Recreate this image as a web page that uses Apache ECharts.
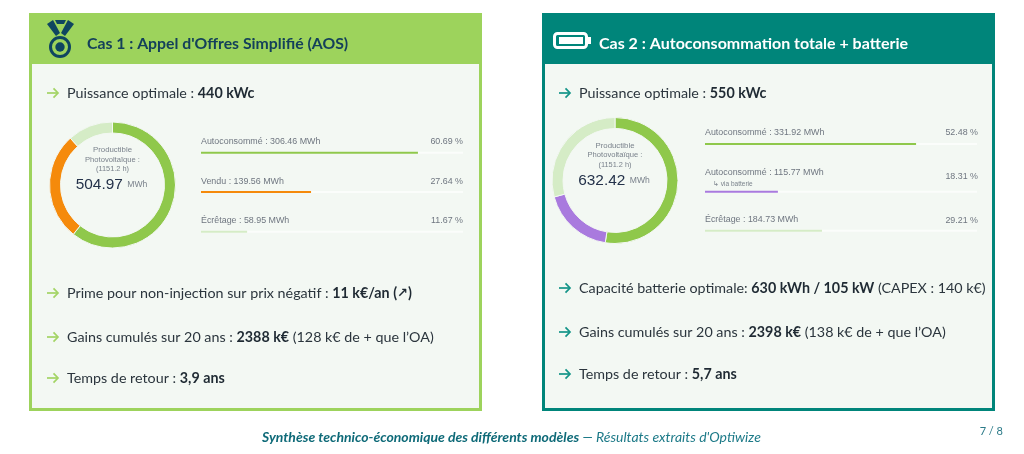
<!DOCTYPE html>
<html><head><meta charset="utf-8">
<style>html,body{margin:0;padding:0;background:#fff}#c{width:1024px;height:454px}</style>
<script src="https://cdn.jsdelivr.net/npm/echarts@6/dist/echarts.min.js"></script>
</head><body><div id="c"></div>
<script>
const case1Names = ['Autoconsommé', 'Vendu', 'Écrêtage'];
const case1Energy = [306.46, 139.56, 58.95];
const case1Percent = ['60.69 %', '27.64 %', '11.67 %'];
const case1BarFill = [82.8, 42, 17.6];
const case1Total = '504.97';
const case2Names = ['Autoconsommé', 'Autoconsommé', 'Écrêtage'];
const case2Energy = [331.92, 115.77, 184.73];
const case2Percent = ['52.48 %', '18.31 %', '29.21 %'];
const case2BarFill = [77.6, 26.8, 43];
const case2Total = '632.42';
const case1Colors = ['#8fc84b', '#f58a0b', '#d5ecc6'];
const case2Colors = ['#8fc84b', '#a97ade', '#d5ecc6'];

const FONT = 'Lato, "Open Sans", sans-serif';
const UI = '"Liberation Sans", Arial, sans-serif';
const DARK = '#2b353d';
const bg = '#f3f8f3';
const BODY = 14.3;

const graphic = [];
const grid = [], xAxis = [], yAxis = [], series = [];

function rect(x, y, w, h, fill, stroke, lw) {
  graphic.push({type:'rect', z:0, silent:true, shape:{x, y, width:w, height:h},
    style:{fill, stroke: stroke || null, lineWidth: lw || 0}});
}
function text(x, y, str, size, fill, opt) {
  opt = opt || {};
  graphic.push({type:'text', z:10, silent:true, x, y, style:Object.assign({
    text:str, fontSize:size, fill, fontFamily:opt.family || FONT,
    fontWeight:opt.weight || 'normal', fontStyle:opt.style || 'normal',
    textAlign:opt.align || 'left', textVerticalAlign:'middle', verticalAlign:'middle'
  }, opt.rich ? {rich:opt.rich} : {})});
}
const bodyRich = {
  n:{fontSize:BODY, fill:DARK, fontFamily:FONT},
  b:{fontSize:BODY, fill:'#1f2a33', fontFamily:FONT, fontWeight:'bold'},
  u:{fontSize:13, fill:'#1f2a33', fontFamily:'"DejaVu Sans"', fontWeight:'bold'}
};
function arrow(x, y, color) {
  graphic.push({type:'polyline', z:10, silent:true, shape:{points:[[x, y], [x + 11, y]]}, style:{fill:'none', stroke:color, lineWidth:1.7}});
  graphic.push({type:'polyline', z:10, silent:true, shape:{points:[[x + 6.5, y - 4.6], [x + 11, y], [x + 6.5, y + 4.6]]}, style:{fill:'none', stroke:color, lineWidth:1.7}});
}
function bullet(xArrow, xText, y, str, color) {
  arrow(xArrow, y, color);
  text(xText, y + 0.5, str, BODY, DARK, {rich:bodyRich});
}
function card(x, head, names, energy, percent, fill, colors, total, cx, cy, barY, labelY, pctY, trackX, trackW, pctRight, seriesName) {
  rect(x + 1.5, 14.5, 450, 395, bg, head, 3);
  rect(x, 13, 453, 51, head);
  series.push({
    type:'pie', name:seriesName, center:[cx, cy], radius:[52, 63], startAngle:90, clockwise:true,
    silent:true, label:{show:false}, labelLine:{show:false}, animation:false,
    itemStyle:{borderColor:bg, borderWidth:1},
    data:energy.map((v, i) => ({name:names[i], value:v, itemStyle:{color:colors[i]}}))
  });
  text(cx, cy - 35, 'Productible', 7.8, '#7a828c', {family:UI, align:'center'});
  text(cx, cy - 25.5, 'Photovoltaïque :', 7.6, '#7a828c', {family:UI, align:'center'});
  text(cx, cy - 16, '(1151.2 h)', 7.4, '#7a828c', {family:UI, align:'center'});
  text(cx - 1, cy, '{v|' + total + '} {u|MWh}', 16, '#2a3850', {family:UI, align:'center', rich:{
    v:{fontSize:15.4, fill:'#24324a', fontFamily:UI}, u:{fontSize:8.6, fill:'#7a828c', fontFamily:UI}
  }});
  energy.forEach((v, i) => {
    const g = grid.length;
    grid.push({left:trackX, width:trackW, top:barY[i] - 1, height:2, containLabel:false});
    xAxis.push({type:'value', gridIndex:g, min:0, max:100, show:false});
    yAxis.push({type:'category', gridIndex:g, data:[names[i]], show:false});
    series.push({type:'bar', xAxisIndex:g, yAxisIndex:g, data:[fill[i]], barWidth:2, silent:true, animation:false,
      showBackground:true, backgroundStyle:{color:'#fbfdfb'}, itemStyle:{color:colors[i]}});
    text(trackX, labelY[i], names[i] + ' : ' + v.toFixed(2) + ' MWh', 8.9, '#6f7680', {family:UI});
    text(pctRight, pctY[i], percent[i], 8.9, '#6f7680', {family:UI, align:'right'});
  });
}

card(29, '#9dd35c', case1Names, case1Energy, case1Percent, case1BarFill, case1Colors, case1Total,
  112.5, 185, [152.7, 192, 231.7], [142, 182, 221], [142, 182, 221], 201, 262, 463, 'Cas 1');
card(542, '#00857a', case2Names, case2Energy, case2Percent, case2BarFill, case2Colors, case2Total,
  615, 180.5, [144, 191.7, 230.7], [133, 173, 220], [133, 177, 221], 705, 272, 978, 'Cas 2');

text(713, 184, '↳ via batterie', 6.5, '#7a828c', {family:UI});

// titles
text(87, 44, "Cas 1 : Appel d'Offres Simplifié (AOS)", 15.8, '#14405a', {weight:'bold'});
text(599, 44, 'Cas 2 : Autoconsommation totale + batterie', 16, '#ffffff', {weight:'bold'});

// medal icon
const navy = '#0f4560';
graphic.push({type:'polygon', z:10, silent:true, shape:{points:[[47,24],[53,20],[60,33],[56,36]]}, style:{fill:navy}});
graphic.push({type:'polygon', z:10, silent:true, shape:{points:[[74,24],[68,20],[61,33],[65,36]]}, style:{fill:navy}});
graphic.push({type:'polygon', z:10, silent:true, shape:{points:[[55,20],[66,20],[64,24],[57,24]]}, style:{fill:navy}});
graphic.push({type:'circle', z:10, silent:true, shape:{cx:60, cy:47, r:9.5}, style:{fill:'none', stroke:navy, lineWidth:3}});
graphic.push({type:'circle', z:10, silent:true, shape:{cx:60, cy:47, r:4.7}, style:{fill:navy}});

// battery icon
graphic.push({type:'rect', z:10, silent:true, shape:{x:554.5, y:33.5, width:32, height:14, r:3}, style:{fill:'none', stroke:'#fff', lineWidth:3}});
graphic.push({type:'rect', z:10, silent:true, shape:{x:588, y:37, width:3, height:7}, style:{fill:'#fff'}});
graphic.push({type:'rect', z:10, silent:true, shape:{x:559, y:37, width:24, height:7}, style:{fill:'#fff'}});

const g1 = '#a3d465', g2 = '#149488';
bullet(47, 67, 93, '{n|Puissance optimale : }{b|440 kWc}', g1);
bullet(47, 67, 293, '{n|Prime pour non-injection sur prix négatif : }{b|11 k€/an (}{u|↗}{b|)}', g1);
bullet(47, 67, 337, '{n|Gains cumulés sur 20 ans : }{b|2388 k€}{n| (128 k€ de + que l’OA)}', g1);
bullet(47, 67, 378, '{n|Temps de retour : }{b|3,9 ans}', g1);
bullet(559, 579, 93, '{n|Puissance optimale : }{b|550 kWc}', g2);
bullet(559, 579, 288, '{n|Capacité batterie optimale: }{b|630 kWh / 105 kW}{n| (CAPEX : 140 k€)}', g2);
bullet(559, 579, 332, '{n|Gains cumulés sur 20 ans : }{b|2398 k€}{n| (138 k€ de + que l’OA)}', g2);
bullet(559, 579, 374, '{n|Temps de retour : }{b|5,7 ans}', g2);

text(262, 437, '{a|Synthèse technico-économique des différents modèles}{b| — Résultats extraits d\'Optiwize}', 14, '#0e6a78', {rich:{
  a:{fontSize:14, fontWeight:'bold', fontStyle:'italic', fill:'#0e6a78', fontFamily:FONT},
  b:{fontSize:14, fontStyle:'italic', fill:'#1d7a88', fontFamily:FONT}
}});
text(1003, 431, '7 / 8', 11, '#2b7a88', {align:'right'});

const chart = echarts.init(document.getElementById('c'), null, {renderer:'canvas', width:1024, height:454});
chart.setOption({animation:false, backgroundColor:'#ffffff', grid, xAxis, yAxis, series, graphic:{elements:graphic}});
</script></body></html>
